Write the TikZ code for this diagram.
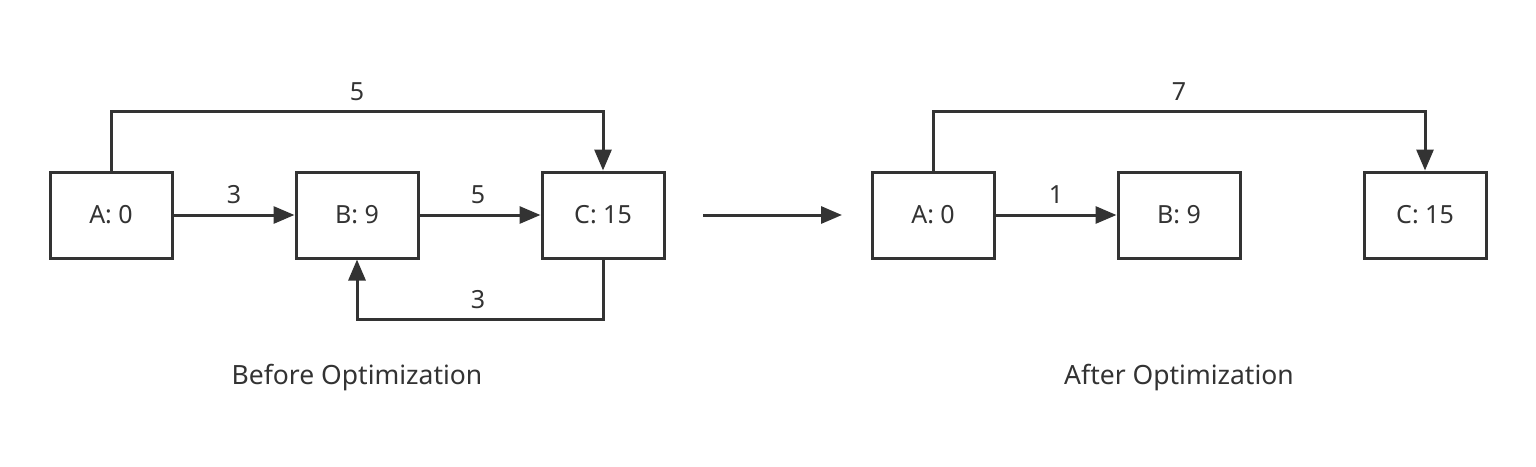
\documentclass[tikz,border=0pt]{standalone}
\usepackage{fontspec}
\setmainfont{Noto Sans}
\usetikzlibrary{arrows.meta}
\definecolor{ink}{HTML}{333333}
\begin{document}
\begin{tikzpicture}[x=1pt,y=-1pt,
  box/.style={draw=ink,line width=3pt,minimum width=122pt,minimum height=86pt,inner sep=0pt,font=\fontsize{25}{30}\selectfont,text=ink},
  conn/.style={draw=ink,line width=3pt,-{Triangle[length=21pt,width=17pt]}},
  lbl/.style={font=\fontsize{25}{30}\selectfont,text=ink,inner sep=0pt},
  captxt/.style={font=\fontsize{26.5}{32}\selectfont,text=ink,inner sep=0pt}]
\useasboundingbox (0,0) rectangle (1536,466);
\node[box] (a1) at (111,215) {A: 0};
\node[box] (b1) at (357,215) {B: 9};
\node[box] (c1) at (603,215) {C: 15};
\node[box] (a2) at (933,215) {A: 0};
\node[box] (b2) at (1179,215) {B: 9};
\node[box] (c2) at (1425,215) {C: 15};
\draw[conn] (a1.north) -- ++(0,-59) -| (c1.north);
\draw[conn] (a1) -- (b1);
\draw[conn] (b1) -- (c1);
\draw[conn] (c1.south) -- ++(0,60) -| (b1.south);
\coordinate (m1) at (703,215);
\coordinate (m2) at (842,215);
\draw[conn] (m1) -- (m2);
\draw[conn] (a2.north) -- ++(0,-59) -| (c2.north);
\draw[conn] (a2) -- (b2);
\node[lbl] (l1) at (357,92) {5};
\node[lbl] (l2) at (234,195) {3};
\node[lbl] (l3) at (478,195) {5};
\node[lbl] (l4) at (478,300) {3};
\node[lbl] (l5) at (1179,92) {7};
\node[lbl] (l6) at (1056,195) {1};
\node[captxt] (t1) at (357,378) {Before Optimization};
\node[captxt] (t2) at (1179,378) {After Optimization};
\end{tikzpicture}
\end{document}
